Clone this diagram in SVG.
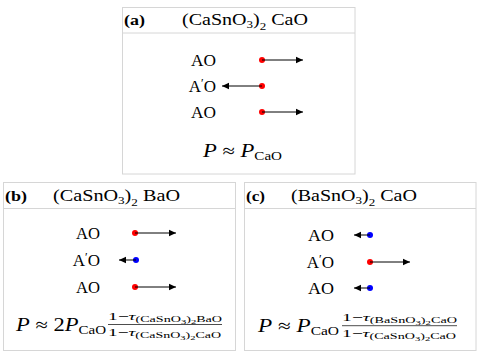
<svg xmlns="http://www.w3.org/2000/svg" width="480" height="360" viewBox="0 0 480 360">
<defs>
<style>
.box{fill:#fff;stroke:#d6d6d6;stroke-width:1}
.sep{stroke:#d6d6d6;stroke-width:1}
text{font-family:"Liberation Serif","DejaVu Serif",serif;fill:#000}
.hdr{font-size:17px}
.tag{font-size:14px;font-weight:bold}
.lbl{font-size:17px;text-anchor:end}
.eq{font-size:18px}
.fr{font-size:11px}
.it{font-style:italic}
.red{fill:#ff0000}
.blue{fill:#0000ff}
.arr{stroke:#000;stroke-width:1;fill:none;marker-end:url(#ah)}
.bar{stroke:#000;stroke-width:0.7}
</style>
<marker id="ah" markerUnits="userSpaceOnUse" markerWidth="8" markerHeight="8" refX="7" refY="4" orient="auto">
<path d="M0,0.8 L7,4 L0,7.2 Z" fill="#000"/>
</marker>
</defs>
<rect width="480" height="360" fill="#fff"/>

<g id="panel-a">
<rect class="box" x="122.5" y="7.5" width="232.5" height="166.5"/>
<line class="sep" x1="122.5" y1="33" x2="355" y2="33"/>
<text class="tag" x="124" y="25" textLength="21" lengthAdjust="spacingAndGlyphs">(a)</text>
<text class="hdr" x="182" y="25" textLength="126" lengthAdjust="spacingAndGlyphs">(CaSnO<tspan font-size="11" dy="3">3</tspan><tspan dy="-3">)</tspan><tspan font-size="11" dy="5">2</tspan><tspan dy="-5"> CaO</tspan></text>
<text class="lbl" x="216" y="66" textLength="25" lengthAdjust="spacingAndGlyphs">AO</text>
<text class="lbl" x="216" y="92">A<tspan font-size="12" dy="-5">′</tspan><tspan dy="5">O</tspan></text>
<text class="lbl" x="216" y="118" textLength="25" lengthAdjust="spacingAndGlyphs">AO</text>
<circle class="red" cx="262" cy="60" r="3"/>
<circle class="red" cx="262" cy="86" r="3"/>
<circle class="red" cx="262" cy="112" r="3"/>
<text class="eq" x="203" y="157" textLength="79" lengthAdjust="spacingAndGlyphs"><tspan class="it">P</tspan> ≈ <tspan class="it">P</tspan><tspan font-size="12" dy="3">CaO</tspan></text>
</g>

<g id="panel-b">
<rect class="box" x="3.5" y="182.5" width="232" height="168"/>
<line class="sep" x1="3.5" y1="208.5" x2="235.5" y2="208.5"/>
<text class="tag" x="5" y="201" textLength="22" lengthAdjust="spacingAndGlyphs">(b)</text>
<text class="hdr" x="53" y="201" textLength="127" lengthAdjust="spacingAndGlyphs">(CaSnO<tspan font-size="11" dy="3">3</tspan><tspan dy="-3">)</tspan><tspan font-size="11" dy="5">2</tspan><tspan dy="-5"> BaO</tspan></text>
<text class="lbl" x="100" y="239" textLength="24" lengthAdjust="spacingAndGlyphs">AO</text>
<text class="lbl" x="100" y="266">A<tspan font-size="12" dy="-5">′</tspan><tspan dy="5">O</tspan></text>
<text class="lbl" x="100" y="293" textLength="24" lengthAdjust="spacingAndGlyphs">AO</text>
<circle class="red" cx="135" cy="233" r="3"/>
<circle class="blue" cx="136" cy="260" r="3"/>
<circle class="red" cx="135" cy="287" r="3"/>
<text class="eq" x="16" y="331" font-size="19" textLength="90" lengthAdjust="spacingAndGlyphs"><tspan class="it">P</tspan> ≈ 2<tspan class="it">P</tspan><tspan font-size="12" dy="3">CaO</tspan></text>
<text class="fr" x="108" y="320" textLength="114" lengthAdjust="spacingAndGlyphs">1−<tspan class="it">τ</tspan><tspan font-size="8" dy="2">(CaSnO</tspan><tspan font-size="6" dy="2">3</tspan><tspan font-size="8" dy="-2">)</tspan><tspan font-size="6" dy="2">2</tspan><tspan font-size="8" dy="-2">BaO</tspan></text>
<line class="bar" x1="108" y1="324.5" x2="222" y2="324.5"/>
<text class="fr" x="108" y="336" textLength="113" lengthAdjust="spacingAndGlyphs">1−<tspan class="it">τ</tspan><tspan font-size="8" dy="2">(CaSnO</tspan><tspan font-size="6" dy="2">3</tspan><tspan font-size="8" dy="-2">)</tspan><tspan font-size="6" dy="2">2</tspan><tspan font-size="8" dy="-2">CaO</tspan></text>
</g>

<g id="panel-c">
<rect class="box" x="244.5" y="182.5" width="231.5" height="168"/>
<line class="sep" x1="244.5" y1="208.5" x2="476" y2="208.5"/>
<text class="tag" x="246" y="201" textLength="19" lengthAdjust="spacingAndGlyphs">(c)</text>
<text class="hdr" x="291" y="201" textLength="126" lengthAdjust="spacingAndGlyphs">(BaSnO<tspan font-size="11" dy="3">3</tspan><tspan dy="-3">)</tspan><tspan font-size="11" dy="5">2</tspan><tspan dy="-5"> CaO</tspan></text>
<text class="lbl" x="334" y="241" textLength="26" lengthAdjust="spacingAndGlyphs">AO</text>
<text class="lbl" x="334" y="268">A<tspan font-size="12" dy="-5">′</tspan><tspan dy="5">O</tspan></text>
<text class="lbl" x="334" y="294" textLength="26" lengthAdjust="spacingAndGlyphs">AO</text>
<circle class="blue" cx="370" cy="235" r="3"/>
<circle class="red" cx="370" cy="262" r="3"/>
<circle class="blue" cx="370" cy="288" r="3"/>
<text class="eq" x="258" y="332" font-size="19" textLength="81" lengthAdjust="spacingAndGlyphs"><tspan class="it">P</tspan> ≈ <tspan class="it">P</tspan><tspan font-size="12" dy="3">CaO</tspan></text>
<text class="fr" x="342" y="321" textLength="115" lengthAdjust="spacingAndGlyphs">1−<tspan class="it">τ</tspan><tspan font-size="8" dy="2">(BaSnO</tspan><tspan font-size="6" dy="2">3</tspan><tspan font-size="8" dy="-2">)</tspan><tspan font-size="6" dy="2">2</tspan><tspan font-size="8" dy="-2">CaO</tspan></text>
<line class="bar" x1="342" y1="325.7" x2="457" y2="325.7"/>
<text class="fr" x="342" y="337" textLength="114" lengthAdjust="spacingAndGlyphs">1−<tspan class="it">τ</tspan><tspan font-size="8" dy="2">(CaSnO</tspan><tspan font-size="6" dy="2">3</tspan><tspan font-size="8" dy="-2">)</tspan><tspan font-size="6" dy="2">2</tspan><tspan font-size="8" dy="-2">CaO</tspan></text>
</g>

<g id="connectors">
<line class="arr" x1="262" y1="60" x2="303" y2="60"/>
<line class="arr" x1="262" y1="86" x2="222" y2="86"/>
<line class="arr" x1="262" y1="112" x2="303" y2="112"/>
<line class="arr" x1="135" y1="233" x2="176" y2="233"/>
<line class="arr" x1="136" y1="260" x2="119" y2="260"/>
<line class="arr" x1="135" y1="287" x2="176" y2="287"/>
<line class="arr" x1="370" y1="235" x2="354" y2="235"/>
<line class="arr" x1="370" y1="262" x2="410" y2="262"/>
<line class="arr" x1="370" y1="288" x2="354" y2="288"/>
</g>
</svg>
